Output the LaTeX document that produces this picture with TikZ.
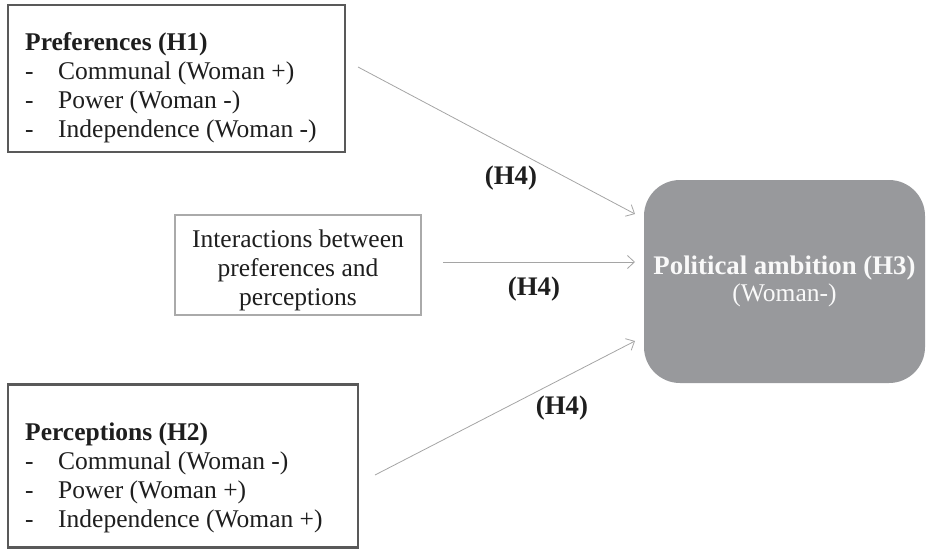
\documentclass[tikz,border=0pt]{standalone}
\usepackage{fontspec}
\setmainfont{Liberation Serif}
\usetikzlibrary{arrows.meta,positioning}
\definecolor{BoxDark}{RGB}{89,89,89}
\definecolor{BoxLight}{RGB}{170,170,170}
\definecolor{AmbitionGray}{RGB}{152,153,156}
\definecolor{ArrowGray}{RGB}{165,165,165}
\definecolor{TextDark}{RGB}{30,30,30}
\newcommand\diagfont{\fontsize{25.5}{29}\selectfont}
\newcommand\boldfont{\fontsize{26.8}{29}\selectfont\bfseries}
\newcommand\itemdash{\makebox[33pt][l]{-}}
\tikzset{
  hypbox/.style={draw=BoxDark,line width=2.6pt,fill=white,inner sep=0pt},
  interbox/.style={draw=BoxLight,line width=2.2pt,fill=white,align=center,
    font=\diagfont,text=TextDark,inner sep=0pt},
  ambitionbox/.style={fill=AmbitionGray,rounded corners=36pt,align=center,
    font=\diagfont,text=white!95!gray,inner sep=0pt},
  listtext/.style={align=left,font=\diagfont,text=TextDark,inner sep=0pt},
  pathline/.style={-{Straight Barb[length=7pt,width=13pt]},
    line width=0.8pt,draw=ArrowGray},
  hlabel/.style={font=\boldfont,text=TextDark,inner sep=0pt},
}
\begin{document}
\begin{tikzpicture}[x=1pt,y=-1pt]
  \useasboundingbox (0,0) rectangle (926,549);
  % boxes
  \node[hypbox,minimum width=337pt,minimum height=147pt] (prefbox) at (176.5,78.5) {};
  \node[listtext,anchor=north west] (preftext) at (25,32)
    {\textbf{Preferences (H1)}\\
     \itemdash Communal (Woman +)\\
     \itemdash Power (Woman -)\\
     \itemdash Independence (Woman -)};
  \node[hypbox,minimum width=350pt,minimum height=163pt] (percbox) at (183,466) {};
  \node[listtext,anchor=north west] (perctext) at (25,423)
    {\textbf{Perceptions (H2)}\\
     \itemdash Communal (Woman -)\\
     \itemdash Power (Woman +)\\
     \itemdash Independence (Woman +)};
  \node[interbox,minimum width=246pt,minimum height=100pt] (interbox) at (298,265)
    {\rule{0pt}{29pt}Interactions between\\ preferences and\\ perceptions};
  \node[ambitionbox,minimum width=281pt,minimum height=203pt] (ambition) at (784.5,281.5)
    {{\boldfont Political ambition (H3)}\\[-2pt] (Woman-)};
  % connector ends
  \coordinate (prefout) at (358,67);
  \coordinate (prefin) at (635,214);
  \coordinate (interout) at (443,262);
  \coordinate (interin) at (635,262);
  \coordinate (percout) at (375,475);
  \coordinate (percin) at (635,341);
  \draw[pathline] (prefout) -- (prefin);
  \draw[pathline] (interout) -- (interin);
  \draw[pathline] (percout) -- (percin);
  % labels
  \node[hlabel] (hfour1) at (511,178) {(H4)};
  \node[hlabel] (hfour2) at (534,289) {(H4)};
  \node[hlabel] (hfour3) at (562,408) {(H4)};
\end{tikzpicture}
\end{document}
